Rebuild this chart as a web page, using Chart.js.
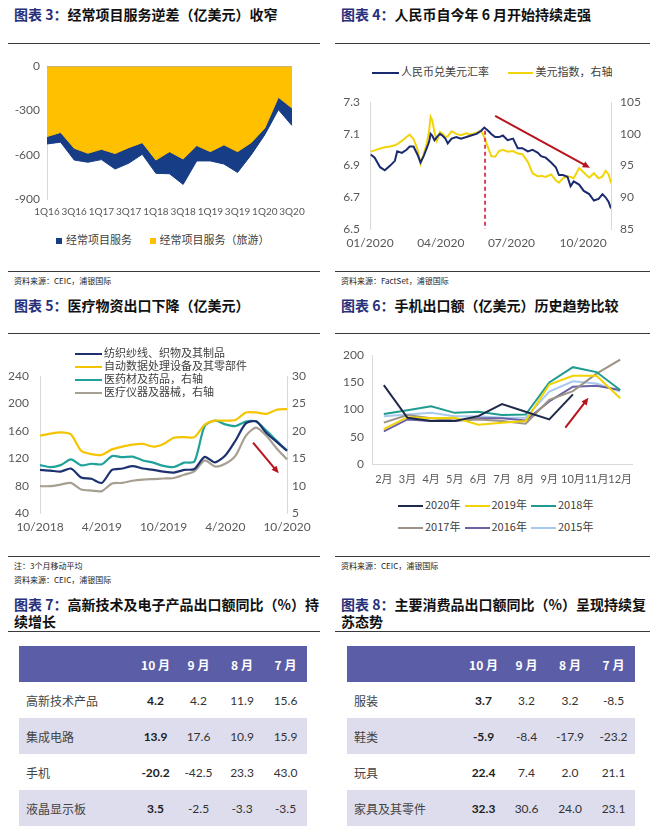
<!DOCTYPE html>
<html>
<head>
<meta charset="utf-8">
<title>charts</title>
<script src="https://cdn.jsdelivr.net/npm/chart.js@4.4.1/dist/chart.umd.min.js"></script>
<style>
  body { margin:0; width:654px; height:838px; position:relative; background:#fff; overflow:hidden;
         font-family:"Noto Sans CJK SC", sans-serif; color:#222; }
  .ttl { position:absolute; font-size:14px; font-weight:bold; line-height:17px; color:#111; white-space:nowrap; }
  .ttl span { color:#27307a; }
  .rule { position:absolute; height:1px; background:#3a3a3a; }
  .src { position:absolute; font-size:8px; line-height:10px; color:#222; white-space:nowrap; }
  .cv { position:absolute; }
  .lg { position:absolute; font-size:11px; line-height:13px; color:#404040; white-space:nowrap; }
  .mk { display:inline-block; vertical-align:middle; }
  .tb { position:absolute; width:288px; border-collapse:collapse; table-layout:fixed; font-size:12px; }
  .tb th { background:#5b5ea6; color:#fff; height:36px; padding:0; font-weight:bold; text-align:center; }
  .tb td { height:36px; padding:0; text-align:center; font-family:Lato, "Noto Sans CJK SC", sans-serif; color:#333; }
  .tb td.nm { text-align:left; padding-left:7px; font-family:"Noto Sans CJK SC", sans-serif; color:#444; }
  .tb td.b { font-weight:bold; color:#222; }
  .tb tr.alt td { background:#dedded; }
</style>
</head>
<body>

<!-- top row -->
<div class="ttl" style="left:14px;top:6px"><span>图表 3：</span>经常项目服务逆差（亿美元）收窄</div>
<div class="rule" style="left:8px;top:43px;width:312px"></div>
<div class="cv" style="left:0;top:52px"><canvas id="c3" width="320" height="170"></canvas></div>
<div class="lg" style="left:56px;top:233px">
  <span class="mk" style="width:6px;height:6px;background:#173d86;margin-right:4px"></span>经常项目服务
  <span class="mk" style="width:6px;height:6px;background:#ffc000;margin:0 3px 0 16px"></span>经常项目服务（旅游）
</div>
<div class="rule" style="left:8px;top:271px;width:312px"></div>
<div class="src" style="left:14px;top:276px">资料来源：CEIC，浦银国际</div>

<div class="ttl" style="left:341px;top:6px"><span>图表 4：</span>人民币自今年 6 月开始持续走强</div>
<div class="rule" style="left:335px;top:43px;width:315px"></div>
<div class="lg" style="left:372px;top:65px">
  <span class="mk" style="width:27px;height:2.5px;background:#1b2a6e;margin-right:2px"></span>人民币兑美元汇率
  <span class="mk" style="width:25px;height:2.5px;background:#f2d40a;margin:0 2px 0 17px"></span>美元指数，右轴
</div>
<div class="cv" style="left:327px;top:85px"><canvas id="c4" width="327" height="166"></canvas></div>
<div class="rule" style="left:335px;top:271px;width:315px"></div>
<div class="src" style="left:341px;top:276px">资料来源：FactSet，浦银国际</div>

<!-- middle row -->
<div class="ttl" style="left:14px;top:297px"><span>图表 5：</span>医疗物资出口下降（亿美元）</div>
<div class="rule" style="left:8px;top:333px;width:312px"></div>
<div class="cv" style="left:0;top:358px"><canvas id="c5" width="327" height="182"></canvas></div>
<div class="lg" style="left:75px;top:346px;line-height:13px">
  <div><span class="mk" style="width:27px;height:2.5px;background:#1d3170;margin-right:2px"></span>纺织纱线、织物及其制品</div>
  <div><span class="mk" style="width:27px;height:2.5px;background:#f5c400;margin-right:2px"></span>自动数据处理设备及其零部件</div>
  <div><span class="mk" style="width:27px;height:2.5px;background:#1fa29a;margin-right:2px"></span>医药材及药品，右轴</div>
  <div><span class="mk" style="width:27px;height:2.5px;background:#a79f92;margin-right:2px"></span>医疗仪器及器械，右轴</div>
</div>
<div class="rule" style="left:8px;top:556px;width:312px"></div>
<div class="src" style="left:14px;top:561px">注：3个月移动平均</div>
<div class="src" style="left:14px;top:575px">资料来源：CEIC，浦银国际</div>

<div class="ttl" style="left:341px;top:297px"><span>图表 6：</span>手机出口额（亿美元）历史趋势比较</div>
<div class="rule" style="left:335px;top:333px;width:315px"></div>
<div class="cv" style="left:327px;top:340px"><canvas id="c6" width="327" height="150"></canvas></div>
<div class="lg" id="lg6" style="left:398px;top:498px"></div>
<div class="rule" style="left:335px;top:556px;width:315px"></div>
<div class="src" style="left:341px;top:561px">资料来源：CEIC，浦银国际</div>

<!-- bottom row -->
<div class="ttl" style="left:14px;top:596px"><span>图表 7：</span>高新技术及电子产品出口额同比（%）持<br>续增长</div>
<div class="rule" style="left:8px;top:631px;width:312px"></div>
<table class="tb" id="tb7" style="left:19px;top:646px"></table>

<div class="ttl" style="left:341px;top:596px"><span>图表 8：</span>主要消费品出口额同比（%）呈现持续复<br>苏态势</div>
<div class="rule" style="left:335px;top:631px;width:315px"></div>
<table class="tb" id="tb8" style="left:347px;top:646px"></table>

<script>
// chart 3 - services balance, quarterly
var qLabels = ['1Q16','2Q16','3Q16','4Q16','1Q17','2Q17','3Q17','4Q17','1Q18','2Q18','3Q18','4Q18','1Q19','2Q19','3Q19','4Q19','1Q20','2Q20','3Q20'];
var svcTotal = [-527,-515,-636,-651,-633,-697,-658,-597,-726,-729,-801,-642,-642,-663,-720,-601,-465,-295,-402];
var svcTravel = [-477,-449,-556,-590,-563,-592,-552,-518,-636,-579,-629,-538,-579,-533,-579,-518,-420,-211,-284];

// chart 4 - usd/cny and dollar index, 2020
var fxDates = ['01-02','01-07','01-14','01-20','01-27','02-02','02-05','02-11','02-17','02-21','02-26',
  '03-02','03-06','03-10','03-14','03-17','03-19','03-21','03-24','03-27','03-31',
  '04-03','04-07','04-10','04-15','04-21','04-27','05-04','05-10','05-17','05-23','05-27',
  '06-01','06-05','06-10','06-15','06-20','06-26','07-03','07-09','07-15','07-22','07-28',
  '08-04','08-08','08-14','08-21','08-27','08-31','09-05','09-11','09-15','09-19','09-26',
  '10-02','10-09','10-15','10-21','10-26','10-30','11-03','11-06'];
var usdCny = [6.97,6.95,6.89,6.87,6.90,6.93,6.99,6.98,7.00,7.02,7.02,
  6.97,6.92,6.96,7.01,7.05,7.10,7.09,7.06,7.08,7.10,
  7.09,7.07,7.04,7.07,7.08,7.07,7.08,7.09,7.10,7.12,7.14,
  7.12,7.10,7.08,7.08,7.09,7.06,7.07,7.01,7.01,6.99,7.00,
  6.98,6.96,6.95,6.92,6.89,6.84,6.84,6.83,6.77,6.80,6.78,
  6.74,6.72,6.68,6.69,6.72,6.70,6.67,6.63];
var dxy = [97.2,97.4,97.7,97.9,98.0,98.2,98.4,98.9,99.5,99.9,99.2,
  97.6,95.3,96.8,98.5,100.5,102.7,102.2,100.2,98.9,100.3,
  100.1,99.5,99.6,100.4,100.0,99.8,100.1,99.9,100.2,100.5,99.5,
  97.8,96.5,96.4,97.3,97.5,97.2,97.3,96.9,96.8,95.6,93.8,
  93.3,93.4,93.2,93.6,92.7,92.3,93.0,93.3,93.2,93.0,94.6,
  93.9,93.1,93.8,93.0,93.3,94.2,93.6,92.2];
var fxTickDates = ['01-01','04-01','07-01','10-01'];
var fxTickLabels = ['01/2020','04/2020','07/2020','10/2020'];

// chart 5 - exports, 3 month moving average
var medMonths = ['10/2018','11/2018','12/2018','1/2019','2/2019','3/2019','4/2019','5/2019','6/2019','7/2019','8/2019','9/2019',
  '10/2019','11/2019','12/2019','1/2020','2/2020','3/2020','4/2020','5/2020','6/2020','7/2020','8/2020','9/2020','10/2020'];
var textile = [103,102,100.5,105,92,90,84,103,105,108.5,105,103,100.5,99,103,104.3,122,114,124,146,171,174,157,144,131];
var dataProc = [153,156,158,155,131,126,125,133,137,140,141,137,141,150,151,151,169,175,175,176,187,187,185,191,192];
var pharma = [13.75,13.4,13.75,14.8,13.7,14.0,13.9,15.4,15.2,15.3,14.6,14.2,13.6,13.4,14.2,14.4,20.9,21.9,21.2,20.9,21.7,21.7,20.0,18.2,16.4];
var medDevice = [9.9,9.9,10.2,10.5,9.3,9.1,9.0,10.4,10.5,10.9,11.1,11.2,11.3,11.4,12.0,12.6,14.6,13.5,14.0,15.5,19.1,20.6,19.1,16.8,14.8];

// chart 6 - mobile phone exports by month
var phoneMonths = ['2月','3月','4月','5月','6月','7月','8月','9月','10月','11月','12月'];
var phoneYears = ['2020年','2019年','2018年','2017年','2016年','2015年'];
var phone2020 = [145,85,79,79,88,110,96,82,128];
var phone2019 = [64,86,84,85,72,76,79,146,162,162,121];
var phone2018 = [92,99,106,94,96,90,91,150,178,169,136];
var phone2017 = [76,90,84,80,82,79,74,118,134,166,192];
var phone2016 = [60,82,79,79,84,84,80,115,142,144,136];
var phone2015 = [88,91,94,88,88,85,85,133,152,148,133];

// tables 7 and 8
var tblMonths = ['10 月','9 月','8 月','7 月'];
var t7Names = ['高新技术产品','集成电路','手机','液晶显示板'];
var t7Oct = [4.2,13.9,-20.2,3.5];
var t7Sep = [4.2,17.6,-42.5,-2.5];
var t7Aug = [11.9,10.9,23.3,-3.3];
var t7Jul = [15.6,15.9,43.0,-3.5];
var t8Names = ['服装','鞋类','玩具','家具及其零件'];
var t8Oct = [3.7,-5.9,22.4,32.3];
var t8Sep = [3.2,-8.4,7.4,30.6];
var t8Aug = [3.2,-17.9,2.0,24.0];
var t8Jul = [-8.5,-23.2,21.1,23.1];

// annotation marks (data space)
var fxTurnDate = '05-28';
var fxArrow = {from:['06-10', 7.213], to:['10-10', 6.886]};
var medArrow = {from:[20.7, 143], to:[23.2, 98]};
var phoneArrow = {from:[7.68, 67], to:[8.66, 122]};

Chart.defaults.font.family = "Lato, 'Noto Sans CJK SC', sans-serif";
Chart.defaults.color = '#595959';
Chart.defaults.animation = false;

function dayOf(md){
  var p = md.split('-');
  return (Date.UTC(2020, +p[0]-1, +p[1]) - Date.UTC(2020,0,1)) / 86400000;
}

function drawArrow(ctx, x1, y1, x2, y2, color){
  var a = Math.atan2(y2-y1, x2-x1), h = 8;
  ctx.save();
  ctx.strokeStyle = color; ctx.fillStyle = color; ctx.lineWidth = 2;
  ctx.beginPath(); ctx.moveTo(x1, y1);
  ctx.lineTo(x2 - h*0.7*Math.cos(a), y2 - h*0.7*Math.sin(a)); ctx.stroke();
  ctx.beginPath(); ctx.moveTo(x2, y2);
  ctx.lineTo(x2 - h*Math.cos(a-0.42), y2 - h*Math.sin(a-0.42));
  ctx.lineTo(x2 - h*Math.cos(a+0.42), y2 - h*Math.sin(a+0.42));
  ctx.closePath(); ctx.fill();
  ctx.restore();
}

// draws red arrows / dashed marker line through the chart scales
var marksPlugin = {
  id: 'marks',
  afterDatasetsDraw: function(chart, args, opts){
    var ctx = chart.ctx, xs = chart.scales.x, ys = chart.scales.y;
    if (opts.vline){
      var vx = xs.getPixelForValue(opts.vline.x);
      ctx.save();
      ctx.strokeStyle = '#d6455a'; ctx.lineWidth = 2; ctx.setLineDash([4,3]);
      ctx.beginPath();
      ctx.moveTo(vx, ys.getPixelForValue(opts.vline.y0));
      ctx.lineTo(vx, ys.getPixelForValue(opts.vline.y1));
      ctx.stroke();
      ctx.restore();
    }
    if (opts.arrow){
      drawArrow(ctx, xs.getPixelForValue(opts.arrow.from[0]), ys.getPixelForValue(opts.arrow.from[1]),
        xs.getPixelForValue(opts.arrow.to[0]), ys.getPixelForValue(opts.arrow.to[1]), '#b8141d');
    }
  }
};
Chart.register(marksPlugin);

var tickFont = {size:12, family:"Lato, 'Noto Sans CJK SC', sans-serif"};
var noGrid = {display:false, drawTicks:false};

// ---- chart 3
new Chart(document.getElementById('c3'), {
  type: 'line',
  data: {
    labels: qLabels,
    datasets: [
      {label:'经常项目服务（旅游）', data:svcTravel, backgroundColor:'#ffc000', borderColor:'#ffc000', borderWidth:1, fill:'origin', pointRadius:0, tension:0},
      {label:'经常项目服务', data:svcTotal, backgroundColor:'#173d86', borderColor:'#173d86', borderWidth:1, fill:'origin', pointRadius:0, tension:0}
    ]
  },
  options: {
    responsive:false,
    layout:{padding:{top:14, right:28, left:0, bottom:0}},
    plugins:{legend:{display:false}, tooltip:{enabled:false}},
    scales:{
      x:{grid:noGrid, border:{display:false},
         ticks:{autoSkip:false, maxRotation:0, padding:7, font:{size:10},
                callback:function(v, i){ return i % 2 === 0 ? qLabels[i] : ''; }},
         afterFit:function(s){ s.height = 23; }},
      y:{min:-900, max:0, grid:noGrid, border:{color:'#d9d9d9'},
         ticks:{stepSize:300, padding:7, font:tickFont},
         afterFit:function(s){ s.width = 47; }}
    }
  }
});

// ---- chart 4
var fxCny = fxDates.map(function(d, i){ return {x:dayOf(d), y:usdCny[i]}; });
var fxDxy = fxDates.map(function(d, i){ return {x:dayOf(d), y:dxy[i]}; });
new Chart(document.getElementById('c4'), {
  type: 'line',
  data: {
    datasets: [
      {label:'人民币兑美元汇率', data:fxCny, yAxisID:'y', borderColor:'#1b2a6e', borderWidth:2, pointRadius:0, tension:0},
      {label:'美元指数，右轴', data:fxDxy, yAxisID:'y1', borderColor:'#f2d40a', borderWidth:2, pointRadius:0, tension:0}
    ]
  },
  options: {
    responsive:false,
    layout:{padding:{top:12, right:0, left:0, bottom:0}},
    plugins:{legend:{display:false}, tooltip:{enabled:false},
      marks:{vline:{x:dayOf(fxTurnDate), y0:7.12, y1:6.5},
             arrow:{from:[dayOf(fxArrow.from[0]), fxArrow.from[1]], to:[dayOf(fxArrow.to[0]), fxArrow.to[1]]}}},
    scales:{
      x:{type:'linear', min:0, max:dayOf(fxDates[fxDates.length-1]),
         grid:noGrid, border:{display:false},
         afterBuildTicks:function(s){ s.ticks = fxTickDates.map(function(d){ return {value:dayOf(d)}; }); },
         ticks:{autoSkip:false, maxRotation:0, padding:7, font:tickFont,
                callback:function(v){ var k = fxTickDates.map(dayOf).indexOf(v); return k >= 0 ? fxTickLabels[k] : ''; }},
         afterFit:function(s){ s.height = 22; }},
      y:{position:'left', min:6.5, max:7.3, grid:noGrid, border:{color:'#d9d9d9'},
         ticks:{stepSize:0.2, padding:10, font:tickFont, callback:function(v){ return v.toFixed(1); }},
         afterFit:function(s){ s.width = 43; }},
      y1:{position:'right', min:85, max:105, grid:noGrid, border:{color:'#d9d9d9'},
         ticks:{stepSize:5, padding:9, font:tickFont},
         afterFit:function(s){ s.width = 43; }}
    }
  }
});

// ---- chart 5
new Chart(document.getElementById('c5'), {
  type: 'line',
  data: {
    labels: medMonths,
    datasets: [
      {label:'纺织纱线、织物及其制品', data:textile, yAxisID:'y', borderColor:'#1d3170', borderWidth:2.2, pointRadius:0, tension:0.25},
      {label:'自动数据处理设备及其零部件', data:dataProc, yAxisID:'y', borderColor:'#f5c400', borderWidth:2.2, pointRadius:0, tension:0.25},
      {label:'医药材及药品，右轴', data:pharma, yAxisID:'y1', borderColor:'#1fa29a', borderWidth:2.2, pointRadius:0, tension:0.25},
      {label:'医疗仪器及器械，右轴', data:medDevice, yAxisID:'y1', borderColor:'#a79f92', borderWidth:2.2, pointRadius:0, tension:0.25}
    ]
  },
  options: {
    responsive:false,
    layout:{padding:{top:14, right:0, left:0, bottom:0}},
    plugins:{legend:{display:false}, tooltip:{enabled:false}, marks:{arrow:medArrow}},
    scales:{
      x:{grid:noGrid, border:{display:false},
         ticks:{autoSkip:false, maxRotation:0, padding:7, font:tickFont,
                callback:function(v, i){ return i % 6 === 0 ? medMonths[i] : ''; }},
         afterFit:function(s){ s.height = 27; }},
      y:{position:'left', min:40, max:240, grid:noGrid, border:{color:'#d9d9d9'},
         ticks:{stepSize:40, padding:11, font:tickFont},
         afterFit:function(s){ s.width = 40; }},
      y1:{position:'right', min:5, max:30, grid:noGrid, border:{color:'#d9d9d9'},
         ticks:{stepSize:5, padding:5, font:tickFont},
         afterFit:function(s){ s.width = 40; }}
    }
  }
});

// ---- chart 6
var phoneSeries = [phone2020, phone2019, phone2018, phone2017, phone2016, phone2015];
var phoneColors = ['#1e2a4a','#f2d200','#1f9b8f','#9c9384','#6b62a6','#aac9ef'];
new Chart(document.getElementById('c6'), {
  type: 'line',
  data: {
    labels: phoneMonths,
    datasets: phoneSeries.map(function(s, i){
      return {label:phoneYears[i], data:s, borderColor:phoneColors[i], borderWidth:2, pointRadius:0, tension:0};
    })
  },
  options: {
    responsive:false,
    layout:{padding:{top:13, right:22, left:0, bottom:0}},
    plugins:{legend:{display:false}, tooltip:{enabled:false}, marks:{arrow:phoneArrow}},
    scales:{
      x:{offset:true, grid:noGrid, border:{color:'#d9d9d9'},
         ticks:{autoSkip:false, maxRotation:0, padding:9, font:{size:11}},
         afterFit:function(s){ s.height = 26; }},
      y:{min:0, max:200, grid:noGrid, border:{color:'#d9d9d9'},
         ticks:{stepSize:50, padding:8, font:tickFont},
         afterFit:function(s){ s.width = 45; }}
    }
  }
});

// legend for chart 6, two rows of three
var lg6 = document.getElementById('lg6');
var html6 = '';
phoneYears.forEach(function(y, i){
  if (i % 3 === 0) html6 += '<div style="height:22px;line-height:13px">';
  html6 += '<span style="display:inline-block;width:66.5px">' +
    '<span class="mk" style="width:25px;height:2.5px;background:' + phoneColors[i] + ';margin-right:2px"></span>' + y + '</span>';
  if (i % 3 === 2) html6 += '</div>';
});
lg6.innerHTML = html6;

// tables
function buildTable(id, names, cols){
  var t = document.getElementById(id);
  var h = '<colgroup><col style="width:115px"><col style="width:43px"><col style="width:43px"><col style="width:44px"><col style="width:43px"></colgroup>';
  h += '<tr><th></th>' + tblMonths.map(function(m){ return '<th>' + m + '</th>'; }).join('') + '</tr>';
  names.forEach(function(n, r){
    h += '<tr' + (r % 2 === 1 ? ' class="alt"' : '') + '><td class="nm">' + n + '</td>';
    cols.forEach(function(c, k){
      h += '<td' + (k === 0 ? ' class="b"' : '') + '>' + c[r].toFixed(1) + '</td>';
    });
    h += '</tr>';
  });
  t.innerHTML = h;
}
buildTable('tb7', t7Names, [t7Oct, t7Sep, t7Aug, t7Jul]);
buildTable('tb8', t8Names, [t8Oct, t8Sep, t8Aug, t8Jul]);
</script>
</body>
</html>
